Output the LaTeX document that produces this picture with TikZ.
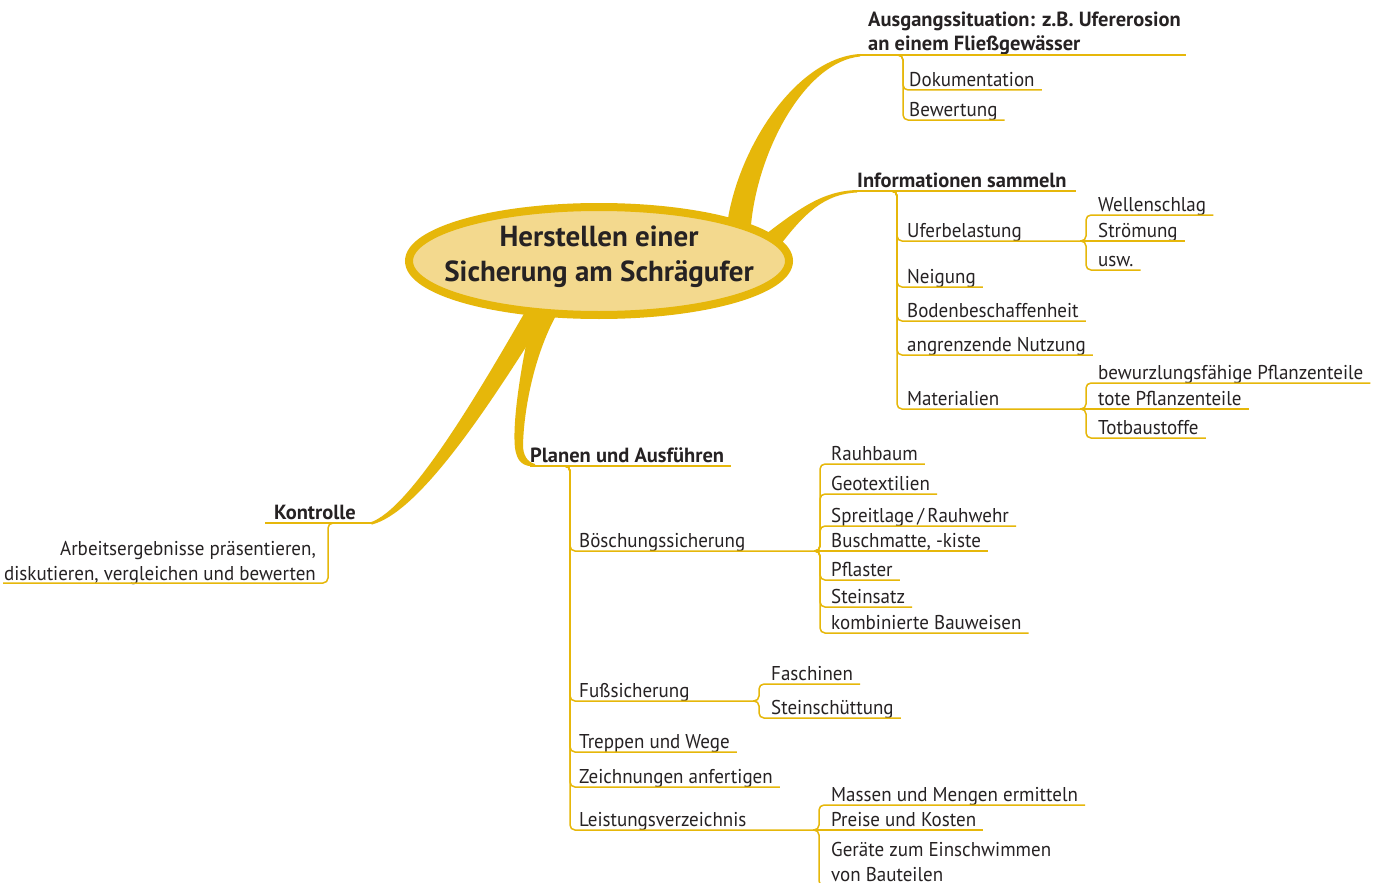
\documentclass[tikz,border=0pt]{standalone}
\usepackage{fontspec}
\setmainfont{PT Sans}
\newfontfamily\itemfont[FakeStretch=0.95]{PT Sans}
\definecolor{gold}{RGB}{230,183,10}
\definecolor{cream}{RGB}{243,217,142}
\definecolor{ink}{RGB}{38,34,35}
\tikzset{
  item/.style={inner sep=0pt, anchor=base west, text=ink, font=\itemfont\fontsize{20}{25}\selectfont},
  head/.style={item, font=\fontsize{20.5}{24.5}\selectfont\bfseries},
  twig/.style={draw=gold, line width=1.5pt, rounded corners=5pt},
  limb/.style={fill=gold, draw=none},
}
\begin{document}
\begin{tikzpicture}[x=1pt,y=-1pt]
\clip (0,0) rectangle (1374,883);
\fill[white] (0,0) rectangle (1374,883);

% tapered main branches
\fill[limb] (727,225) .. controls (737,150) and (795,58) .. (860,54)
  -- (860,56.5) .. controls (805,62) and (758,150) .. (751,225) -- cycle;
\fill[limb] (758,240) .. controls (795,212) and (820,191) .. (857,190)
  -- (857,192.5) .. controls (825,194) and (805,212) .. (778,248) -- cycle;
\fill[limb] (525,312) .. controls (480,390) and (410,510) .. (370,522.5)
  -- (372,524.5) .. controls (420,512) and (490,405) .. (548,312) -- cycle;
\fill[limb] (533,312) .. controls (522,360) and (512,420) .. (515,448)
  .. controls (517,462) and (523,466.5) .. (535,466.5)
  -- (535,464) .. controls (527,462) and (523,455) .. (523,445)
  .. controls (524,405) and (536,350) .. (558,312) -- cycle;

% central topic
\draw[gold, line width=8pt, fill=cream] (599,261) ellipse [x radius=190pt, y radius=54pt];
\node[text=ink, inner sep=0pt, align=center, font=\fontsize{29}{35}\selectfont\bfseries]
  (title) at (599,257) {Herstellen einer\\Sicherung am Schrägufer};

% ---- Ausgangssituation
\node[head, anchor=base west, align=left] (aus) at (868,51) {Ausgangssituation: z.B. Ufererosion\\an einem Fließgewässer};
\draw[twig] (858,55) -- (1186,55);
\node[item] (dok) at (909,86) {Dokumentation};
\node[item] (bew) at (909,116) {Bewertung};
\foreach \nm/\u in {dok/90, bew/120}
  \draw[twig] (896,55) -| (903,\u) -- ([shift={(7pt,-4pt)}]\nm.base east);

% ---- Informationen sammeln
\node[head] (inf) at (857,187) {Informationen sammeln};
\draw[twig] (855,191) -- ([shift={(9pt,-4pt)}]inf.base east);
\node[item] (ufb) at (907,237) {Uferbelastung};
\node[item] (nei) at (907,283) {Neigung};
\node[item] (bod) at (907,317) {Bodenbeschaffenheit};
\node[item] (ang) at (907,351) {angrenzende Nutzung};
\node[item] (mat) at (907,405) {Materialien};
\foreach \nm/\u in {nei/287, bod/321, ang/355}
  \draw[twig] (891,191) -| (897,\u) -- ([shift={(7pt,-4pt)}]\nm.base east);
\draw[twig] (891,191) -| (897,241) -- (1083,241);
\draw[twig] (891,191) -| (897,409) -- (1083,409);

% Uferbelastung details
\node[item] (wel) at (1098,211) {Wellenschlag};
\node[item] (str) at (1098,237) {Strömung};
\node[item] (usw) at (1098,266) {usw.};
\draw[twig] (1080,241) -| (1086,215) -- ([shift={(7pt,-4pt)}]wel.base east);
\draw[twig] (1080,241) -- ([shift={(7pt,-4pt)}]str.base east);
\draw[twig] (1080,241) -| (1086,270) -- ([shift={(7pt,-4pt)}]usw.base east);

% Materialien details
\node[item] (bwp) at (1098,379) {bewurzlungsfähige Pflanzenteile};
\node[item] (tot) at (1098,405) {tote Pflanzenteile};
\node[item] (tbs) at (1098,434) {Totbaustoffe};
\draw[twig] (1080,409) -| (1086,383) -- ([shift={(7pt,-4pt)}]bwp.base east);
\draw[twig] (1080,409) -- ([shift={(7pt,-4pt)}]tot.base east);
\draw[twig] (1080,409) -| (1086,438) -- ([shift={(7pt,-4pt)}]tbs.base east);

% ---- Planen und Ausführen
\node[head] (pla) at (530,462) {Planen und Ausführen};
\draw[twig] (530,466) -- ([shift={(7pt,-4pt)}]pla.base east);
\node[item] (boe) at (579,547) {Böschungssicherung};
\node[item] (fus) at (579,697) {Fußsicherung};
\node[item] (tre) at (579,748) {Treppen und Wege};
\node[item] (zei) at (579,783) {Zeichnungen anfertigen};
\node[item] (lei) at (579,826) {Leistungsverzeichnis};
\foreach \nm/\u in {tre/752, zei/787}
  \draw[twig] (564,466) -| (570,\u) -- ([shift={(7pt,-4pt)}]\nm.base east);
\draw[twig] (564,466) -| (570,551) -- (817,551);
\draw[twig] (564,466) -| (570,701) -- (756,701);
\draw[twig] (564,466) -| (570,830) -- (816,830);

% Böschungssicherung details
\node[item] (rau) at (831,460) {Rauhbaum};
\node[item] (geo) at (831,490) {Geotextilien};
\node[item] (spr) at (831,522) {Spreitlage\,/\,Rauhwehr};
\node[item] (bus) at (831,547) {Buschmatte, -kiste};
\node[item] (pfl) at (831,576) {Pflaster};
\node[item] (ste) at (831,603) {Steinsatz};
\node[item] (kom) at (831,629) {kombinierte Bauweisen};
\foreach \nm/\u in {rau/464, geo/494, spr/526}
  \draw[twig] (814,551) -| (820,\u) -- ([shift={(7pt,-4pt)}]\nm.base east);
\draw[twig] (814,551) -- ([shift={(7pt,-4pt)}]bus.base east);
\foreach \nm/\u in {pfl/580, ste/607, kom/633}
  \draw[twig] (814,551) -| (820,\u) -- ([shift={(7pt,-4pt)}]\nm.base east);

% Fußsicherung details
\node[item] (fas) at (771,680) {Faschinen};
\node[item] (sts) at (771,714) {Steinschüttung};
\foreach \nm/\u in {fas/684, sts/718}
  \draw[twig] (753,701) -| (759,\u) -- ([shift={(7pt,-4pt)}]\nm.base east);

% Leistungsverzeichnis details
\node[item] (mas) at (831,801) {Massen und Mengen ermitteln};
\node[item] (pre) at (831,826) {Preise und Kosten};
\node[item, align=left, anchor=north west] (ger) at (831,842) {Geräte zum Einschwimmen\\von Bauteilen};
\draw[twig] (813,830) -| (819,805) -- ([shift={(7pt,-4pt)}]mas.base east);
\draw[twig] (813,830) -- ([shift={(7pt,-4pt)}]pre.base east);
\draw[twig] (813,830) -| (819,886) -- (1060,886);

% ---- Kontrolle
\node[head, anchor=base east] (kon) at (356,519) {Kontrolle};
\draw[twig] (372,523) -- (265,523);
\node[item, anchor=base east, align=right] (arb) at (316,580) {Arbeitsergebnisse präsentieren,\\diskutieren, vergleichen und bewerten};
\draw[twig] (335,523) -| (328,583) -- (3,583);
\end{tikzpicture}
\end{document}
